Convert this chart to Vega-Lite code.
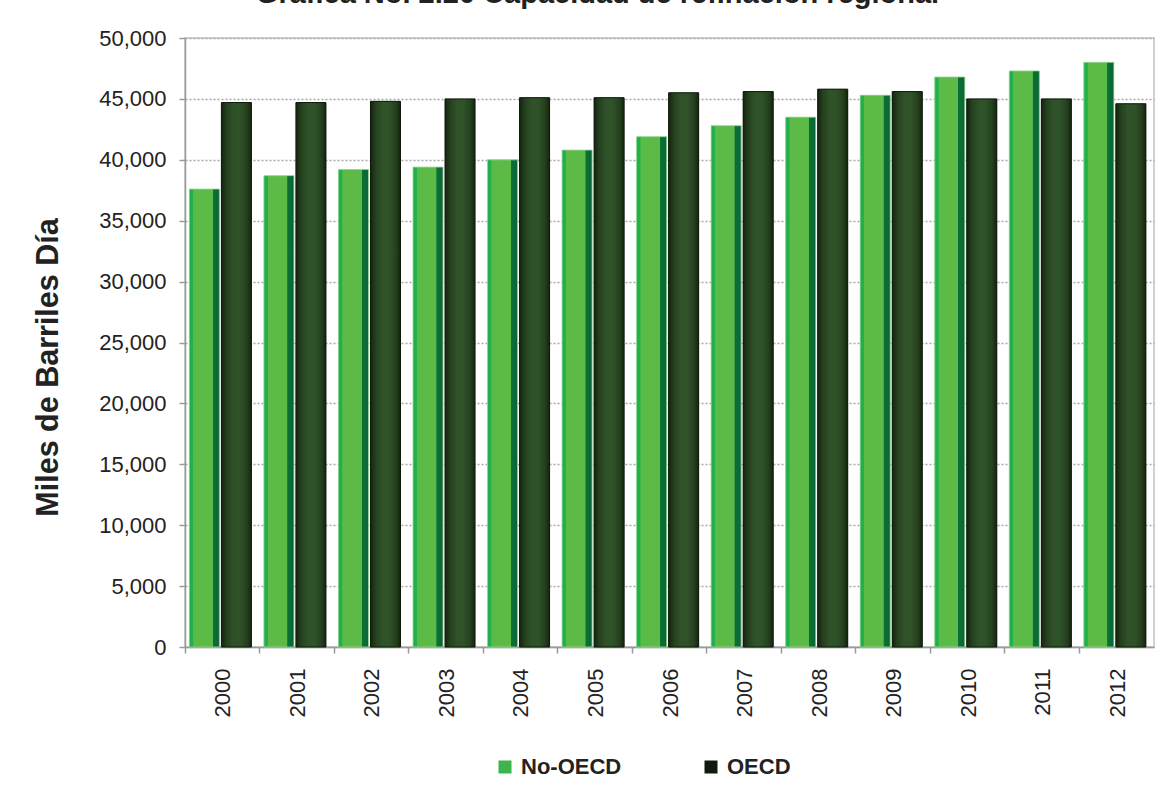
{
  "$schema": "https://vega.github.io/schema/vega-lite/v6.json",
  "width": 969,
  "height": 609,
  "autosize": {"type": "none"},
  "padding": {"left": 185, "top": 38, "right": 12, "bottom": 139},
  "background": "white",
  "title": {
    "text": "Gráfica No. 2.20 Capacidad de refinación regional",
    "font": "Liberation Sans",
    "fontSize": 29,
    "fontWeight": "bold",
    "color": "#222222",
    "anchor": "middle",
    "offset": 18,
    "dx": -72
  },
  "config": {
    "view": {"stroke": "#c4c4c4", "strokeWidth": 1.5},
    "font": "Liberation Sans"
  },
  "data": {
    "values": [
      {"year": "2000", "series": "No-OECD", "value": 37600},
      {"year": "2000", "series": "OECD", "value": 44700},
      {"year": "2001", "series": "No-OECD", "value": 38700},
      {"year": "2001", "series": "OECD", "value": 44700},
      {"year": "2002", "series": "No-OECD", "value": 39200},
      {"year": "2002", "series": "OECD", "value": 44800},
      {"year": "2003", "series": "No-OECD", "value": 39400},
      {"year": "2003", "series": "OECD", "value": 45000},
      {"year": "2004", "series": "No-OECD", "value": 40000},
      {"year": "2004", "series": "OECD", "value": 45100},
      {"year": "2005", "series": "No-OECD", "value": 40800},
      {"year": "2005", "series": "OECD", "value": 45100},
      {"year": "2006", "series": "No-OECD", "value": 41900},
      {"year": "2006", "series": "OECD", "value": 45500},
      {"year": "2007", "series": "No-OECD", "value": 42800},
      {"year": "2007", "series": "OECD", "value": 45600},
      {"year": "2008", "series": "No-OECD", "value": 43500},
      {"year": "2008", "series": "OECD", "value": 45800},
      {"year": "2009", "series": "No-OECD", "value": 45300},
      {"year": "2009", "series": "OECD", "value": 45600},
      {"year": "2010", "series": "No-OECD", "value": 46800},
      {"year": "2010", "series": "OECD", "value": 45000},
      {"year": "2011", "series": "No-OECD", "value": 47300},
      {"year": "2011", "series": "OECD", "value": 45000},
      {"year": "2012", "series": "No-OECD", "value": 48000},
      {"year": "2012", "series": "OECD", "value": 44600}
    ]
  },
  "encoding": {
    "x": {
      "field": "year",
      "type": "nominal",
      "scale": {"paddingInner": 0, "paddingOuter": 0},
      "axis": {
        "title": null,
        "bandPosition": 0,
        "labelOffset": 1,
        "labelAngle": -90,
        "labelAlign": "right",
        "labelBaseline": "middle",
        "labelFontSize": 22,
        "labelColor": "#222222",
        "labelPadding": 15,
        "tickSize": 6,
        "tickColor": "#9a9a9a",
        "tickWidth": 1.5,
        "domainColor": "#9a9a9a",
        "domainWidth": 1.5,
        "grid": false
      }
    },
    "xOffset": {
      "field": "series",
      "type": "nominal",
      "scale": {"paddingInner": 0.0625, "paddingOuter": 0.195, "align": 0.35}
    },
    "y": {
      "field": "value",
      "type": "quantitative",
      "scale": {"domain": [0, 50000], "nice": false},
      "axis": {
        "title": "Miles de Barriles Día",
        "titleFontSize": 30.5,
        "titleFontWeight": "bold",
        "titleColor": "#222222",
        "titleAngle": -90,
        "titleX": -137,
        "titleY": 329,
        "titleAlign": "center",
        "titleBaseline": "middle",
        "values": [0, 5000, 10000, 15000, 20000, 25000, 30000, 35000, 40000, 45000, 50000],
        "format": ",d",
        "labelFontSize": 22,
        "labelColor": "#222222",
        "labelPadding": 13,
        "tickSize": 6,
        "tickColor": "#9a9a9a",
        "tickWidth": 1.5,
        "domainColor": "#9a9a9a",
        "domainWidth": 1.5,
        "grid": true,
        "gridColor": "#a8a8a8",
        "gridDash": [2, 2],
        "gridWidth": 1.5
      }
    }
  },
  "layer": [
    {
      "mark": {"type": "bar"},
      "encoding": {
        "color": {
          "field": "series",
          "type": "nominal",
          "scale": {"domain": ["No-OECD", "OECD"], "range": ["#3cb54a", "#0e1a0c"]},
          "legend": {
            "title": null,
            "orient": "none",
            "legendX": 309,
            "legendY": 718,
            "direction": "horizontal",
            "symbolType": "square",
            "symbolSize": 169,
            "symbolStrokeWidth": 0,
            "labelFontSize": 22,
            "labelFontWeight": "bold",
            "labelColor": "#222222",
            "labelOffset": 5,
            "columnPadding": 78
          }
        }
      }
    },
    {
      "transform": [{"filter": "datum.series === 'No-OECD'"}],
      "mark": {
        "type": "bar",
        "stroke": "#9fd89a",
        "strokeWidth": 0.8,
        "fill": {
          "gradient": "linear",
          "x1": 0, "x2": 1, "y1": 0, "y2": 0,
          "stops": [
            {"offset": 0, "color": "#1fae4a"},
            {"offset": 0.12, "color": "#22b24c"},
            {"offset": 0.14, "color": "#5cba47"},
            {"offset": 0.77, "color": "#5cba47"},
            {"offset": 0.79, "color": "#0b7038"},
            {"offset": 1, "color": "#0a6634"}
          ]
        }
      }
    },
    {
      "transform": [{"filter": "datum.series === 'OECD'"}],
      "mark": {
        "type": "bar",
        "stroke": "#0f1a0d",
        "strokeWidth": 1,
        "fill": {
          "gradient": "linear",
          "x1": 0, "x2": 1, "y1": 0, "y2": 0,
          "stops": [
            {"offset": 0, "color": "#15240f"},
            {"offset": 0.18, "color": "#25411f"},
            {"offset": 0.4, "color": "#2f5229"},
            {"offset": 0.62, "color": "#2f5229"},
            {"offset": 0.84, "color": "#25411f"},
            {"offset": 1, "color": "#15240f"}
          ]
        }
      }
    }
  ]
}
